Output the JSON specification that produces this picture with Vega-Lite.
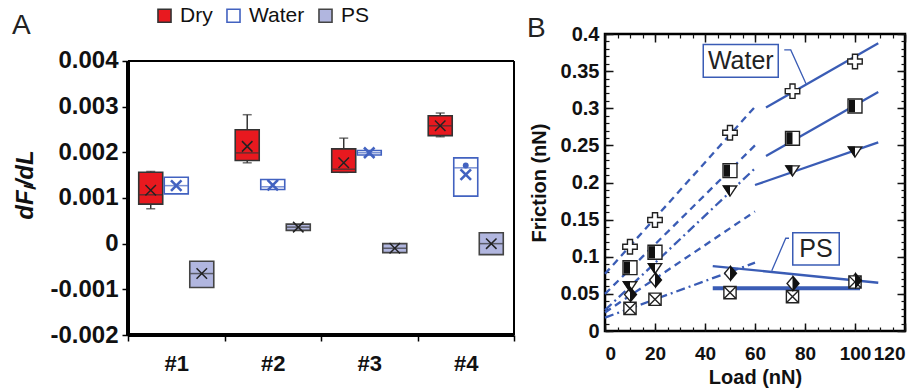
{
  "$schema": "https://vega.github.io/schema/vega-lite/v6.json",
  "background": "white",
  "padding": {"left": 12, "top": 5, "right": 0, "bottom": 0},
  "config": {
    "font": "Liberation Sans",
    "view": {"stroke": null},
    "axis": {"grid": false}
  },
  "datasets": {
    "boxes": [
      {"cat": "#1", "group": "Dry", "lo": 0.000764, "q1": 0.000865, "med": 0.00107, "q3": 0.001563, "hi": 0.00158, "mean": 0.00117},
      {"cat": "#1", "group": "Water", "q1": 0.00109, "med": 0.00127, "q3": 0.001454, "mean": 0.00127},
      {"cat": "#1", "group": "PS", "q1": -0.00096, "med": -0.000655, "q3": -0.000386, "mean": -0.000655},
      {"cat": "#2", "group": "Dry", "lo": 0.00177, "q1": 0.00182, "med": 0.001987, "q3": 0.002495, "hi": 0.002823, "mean": 0.00213},
      {"cat": "#2", "group": "Water", "q1": 0.001186, "med": 0.001245, "q3": 0.001404, "mean": 0.00128},
      {"cat": "#2", "group": "PS", "q1": 0.00029, "med": 0.000362, "q3": 0.000428, "mean": 0.000362},
      {"cat": "#3", "group": "Dry", "lo": 0.00156, "q1": 0.001563, "med": 0.00163, "q3": 0.002074, "hi": 0.00231, "mean": 0.00177},
      {"cat": "#3", "group": "Water", "q1": 0.00194, "med": 0.00199, "q3": 0.00204, "mean": 0.00199},
      {"cat": "#3", "group": "PS", "q1": -0.000197, "med": -0.0001, "q3": 0.0, "mean": -0.0001},
      {"cat": "#4", "group": "Dry", "lo": 0.00234, "q1": 0.002365, "med": 0.00258, "q3": 0.0028, "hi": 0.00286, "mean": 0.00258},
      {"cat": "#4", "group": "Water", "q1": 0.00104, "med": 0.00166, "q3": 0.001878, "mean": 0.00151, "dot": 0.00171},
      {"cat": "#4", "group": "PS", "q1": -0.00024, "med": 0.0, "q3": 0.00024, "mean": 0.0}
    ],
    "pts": [
      {"series": "cross", "load": 10, "friction": 0.1135},
      {"series": "cross", "load": 20, "friction": 0.1495},
      {"series": "cross", "load": 50, "friction": 0.267},
      {"series": "cross", "load": 75, "friction": 0.323},
      {"series": "cross", "load": 100, "friction": 0.363},
      {"series": "halfsq", "load": 10, "friction": 0.0853},
      {"series": "halfsq", "load": 20, "friction": 0.106},
      {"series": "halfsq", "load": 50, "friction": 0.216},
      {"series": "halfsq", "load": 75, "friction": 0.2595},
      {"series": "halfsq", "load": 100, "friction": 0.303},
      {"series": "tri", "load": 10, "friction": 0.06},
      {"series": "tri", "load": 20, "friction": 0.0844},
      {"series": "tri", "load": 50, "friction": 0.189},
      {"series": "tri", "load": 75, "friction": 0.216},
      {"series": "tri", "load": 100, "friction": 0.2415},
      {"series": "diam", "load": 10, "friction": 0.049},
      {"series": "diam", "load": 20, "friction": 0.0687},
      {"series": "diam", "load": 50, "friction": 0.0777},
      {"series": "diam", "load": 75, "friction": 0.064},
      {"series": "diam", "load": 100, "friction": 0.068},
      {"series": "boxx", "load": 10, "friction": 0.0305},
      {"series": "boxx", "load": 20, "friction": 0.0427},
      {"series": "boxx", "load": 50, "friction": 0.0516},
      {"series": "boxx", "load": 75, "friction": 0.0462},
      {"series": "boxx", "load": 100, "friction": 0.066}
    ],
    "fits": [
      {"series": "cross", "regime": "low", "load": 0, "friction": 0.077},
      {"series": "cross", "regime": "low", "load": 60, "friction": 0.302},
      {"series": "halfsq", "regime": "low", "load": 0, "friction": 0.05},
      {"series": "halfsq", "regime": "low", "load": 60, "friction": 0.25},
      {"series": "tri", "regime": "low", "load": 0, "friction": 0.028},
      {"series": "tri", "regime": "low", "load": 60, "friction": 0.219},
      {"series": "diam", "regime": "low", "load": 0, "friction": 0.025},
      {"series": "diam", "regime": "low", "load": 60, "friction": 0.161},
      {"series": "boxx", "regime": "low", "load": 0, "friction": 0.018},
      {"series": "boxx", "regime": "low", "load": 60, "friction": 0.092},
      {"series": "cross", "regime": "high", "load": 64.4, "friction": 0.301},
      {"series": "cross", "regime": "high", "load": 109.3, "friction": 0.3875},
      {"series": "halfsq", "regime": "high", "load": 64.4, "friction": 0.2357},
      {"series": "halfsq", "regime": "high", "load": 109.3, "friction": 0.322},
      {"series": "tri", "regime": "high", "load": 60, "friction": 0.1966},
      {"series": "tri", "regime": "high", "load": 109.3, "friction": 0.254},
      {"series": "diam", "regime": "high", "load": 43.1, "friction": 0.0875},
      {"series": "diam", "regime": "high", "load": 109.3, "friction": 0.065},
      {"series": "boxx", "regime": "high", "load": 43.1, "friction": 0.0575},
      {"series": "boxx", "regime": "high", "load": 102, "friction": 0.0575}
    ],
    "notes": [
      {"label": "Water", "x1": 39.3, "x2": 69.3, "y1": 0.3417, "y2": 0.386, "tx": 54.3, "ty": 0.3638},
      {"label": "PS", "x1": 75.1, "x2": 93.7, "y1": 0.0889, "y2": 0.1324, "tx": 84.4, "ty": 0.1106}
    ],
    "leaders": [
      {"note": "Water", "ord": 1, "load": 71.7, "friction": 0.3785},
      {"note": "Water", "ord": 2, "load": 74.3, "friction": 0.3785},
      {"note": "Water", "ord": 3, "load": 80.4, "friction": 0.333},
      {"note": "PS", "ord": 1, "load": 73.6, "friction": 0.1249},
      {"note": "PS", "ord": 2, "load": 72.3, "friction": 0.1249},
      {"note": "PS", "ord": 3, "load": 66.7, "friction": 0.081}
    ]
  },
  "bounds": "flush",
  "spacing": 91,
  "hconcat": [
    {
      "width": 386,
      "height": 301,
      "title": {"text": "A", "anchor": "start", "frame": "group", "fontSize": 28, "fontWeight": "normal", "color": "#222", "dx": -116, "dy": 6, "offset": 0},
      "data": {"name": "boxes"},
      "resolve": {"axis": {"x": "independent", "y": "independent"}},
      "layer": [
        {
          "mark": {"type": "rule", "color": "#000", "strokeWidth": 1.5},
          "encoding": {
            "y": {"datum": 0.004, "type": "quantitative", "scale": {"domain": [-0.002, 0.00459], "nice": false, "zero": false},
              "axis": {"title": "dFₗ/dL", "titleFontSize": 24, "titleFontWeight": "bold", "titleFontStyle": "italic", "titleColor": "#111", "titlePadding": 12,
                "values": [-0.002, -0.001, 0, 0.001, 0.002, 0.003, 0.004],
                "labelExpr": "datum.value == 0 ? '0' : (datum.value < 0 ? '-' : '') + format(abs(datum.value), '.3f')",
                "labelFontSize": 24, "labelFontWeight": "bold", "labelColor": "#111", "labelPadding": 4,
                "tickSize": 6, "tickWidth": 1.5, "tickColor": "#000", "domain": false}}
          }
        },
        {
          "mark": {"type": "rule", "color": "#000", "strokeWidth": 3},
          "encoding": {
            "y": {"datum": -0.002, "type": "quantitative", "scale": {"domain": [-0.002, 0.00459], "nice": false, "zero": false}, "axis": null}
          }
        },
        {
          "mark": {"type": "rule", "color": "#000", "strokeWidth": 1.5},
          "encoding": {
            "x": {"datum": "#4", "type": "nominal", "bandPosition": 1, "scale": {"domain": ["#1", "#2", "#3", "#4"], "paddingInner": 0, "paddingOuter": 0},
              "axis": {"title": null, "labelAngle": 0, "labelFontSize": 22, "labelFontWeight": "bold", "labelColor": "#111", "tickBand": "extent", "tickSize": 6, "tickWidth": 1.5, "tickColor": "#000", "domainWidth": 3, "domainColor": "#000", "labelPadding": 12}},
            "y": {"datum": 0.004, "type": "quantitative", "scale": {"domain": [-0.002, 0.00459], "nice": false, "zero": false}, "axis": null},
            "y2": {"datum": -0.002}
          }
        },
        {
          "mark": {"type": "rule", "color": "#000", "strokeWidth": 3},
          "encoding": {
            "x": {"datum": "#1", "type": "nominal", "bandPosition": 0, "scale": {"domain": ["#1", "#2", "#3", "#4"], "paddingInner": 0, "paddingOuter": 0}, "axis": null},
            "y": {"datum": 0.004, "type": "quantitative", "scale": {"domain": [-0.002, 0.00459], "nice": false, "zero": false}, "axis": null},
            "y2": {"datum": -0.002}
          }
        },
        {
          "transform": [{"filter": "isValid(datum.lo)"}],
          "mark": {"type": "rule", "color": "#333", "strokeWidth": 1.5},
          "encoding": {
            "x": {"field": "cat", "type": "nominal", "axis": null},
            "xOffset": {"field": "group", "type": "nominal", "scale": {"domain": ["Dry", "Water", "PS"], "paddingInner": 0.06, "paddingOuter": 0.42}},
            "y": {"field": "lo", "type": "quantitative", "axis": null},
            "y2": {"field": "hi"}
          }
        },
        {
          "transform": [{"filter": "isValid(datum.lo)"}],
          "mark": {"type": "tick", "orient": "horizontal", "size": 9, "thickness": 1.5, "color": "#333"},
          "encoding": {
            "x": {"field": "cat", "type": "nominal", "axis": null},
            "xOffset": {"field": "group", "type": "nominal"},
            "y": {"field": "lo", "type": "quantitative", "axis": null}
          }
        },
        {
          "transform": [{"filter": "isValid(datum.hi)"}],
          "mark": {"type": "tick", "orient": "horizontal", "size": 9, "thickness": 1.5, "color": "#333"},
          "encoding": {
            "x": {"field": "cat", "type": "nominal", "axis": null},
            "xOffset": {"field": "group", "type": "nominal"},
            "y": {"field": "hi", "type": "quantitative", "axis": null}
          }
        },
        {
          "mark": {"type": "bar", "strokeWidth": 1.6},
          "encoding": {
            "x": {"field": "cat", "type": "nominal", "axis": null},
            "xOffset": {"field": "group", "type": "nominal"},
            "y": {"field": "q1", "type": "quantitative", "axis": null},
            "y2": {"field": "q3"},
            "fill": {"field": "group", "type": "nominal", "scale": {"domain": ["Dry", "Water", "PS"], "range": ["#e8191f", "#ffffff", "#b1b6df"]},
              "legend": {"title": null, "orient": "none", "legendX": 26, "legendY": -29, "direction": "horizontal", "symbolType": "square", "symbolSize": 170, "symbolStrokeWidth": 1.6, "labelFontSize": 21, "labelColor": "#111", "labelOffset": 5, "columnPadding": 10}},
            "stroke": {"field": "group", "type": "nominal", "scale": {"domain": ["Dry", "Water", "PS"], "range": ["#333333", "#4262c0", "#444444"]},
              "legend": {"title": null, "orient": "none", "legendX": 26, "legendY": -29, "direction": "horizontal", "symbolType": "square", "symbolSize": 170, "symbolStrokeWidth": 1.6, "labelFontSize": 21, "labelColor": "#111", "labelOffset": 5, "columnPadding": 10}}
          }
        },
        {
          "mark": {"type": "tick", "orient": "horizontal", "size": 23, "thickness": 1.5},
          "encoding": {
            "x": {"field": "cat", "type": "nominal", "axis": null},
            "xOffset": {"field": "group", "type": "nominal"},
            "y": {"field": "med", "type": "quantitative", "axis": null},
            "color": {"condition": {"test": "datum.group === 'Water'", "value": "#4262c0"}, "value": "#333333"}
          }
        },
        {
          "mark": {"type": "point", "shape": "M-1,-1L1,1M1,-1L-1,1", "filled": false, "size": 110, "opacity": 1},
          "encoding": {
            "x": {"field": "cat", "type": "nominal", "axis": null},
            "xOffset": {"field": "group", "type": "nominal"},
            "y": {"field": "mean", "type": "quantitative", "axis": null},
            "color": {"condition": {"test": "datum.group === 'Water'", "value": "#4262c0"}, "value": "#222222"},
            "strokeWidth": {"condition": {"test": "datum.group === 'Water'", "value": 2.6}, "value": 1.5}
          }
        },
        {
          "transform": [{"filter": "isValid(datum.dot)"}],
          "mark": {"type": "point", "shape": "circle", "filled": true, "size": 35, "color": "#4262c0", "opacity": 1},
          "encoding": {
            "x": {"field": "cat", "type": "nominal", "axis": null},
            "xOffset": {"field": "group", "type": "nominal"},
            "y": {"field": "dot", "type": "quantitative", "axis": null}
          }
        }
      ]
    },
    {
      "width": 300,
      "height": 297,
      "title": {"text": "B", "anchor": "start", "frame": "group", "fontSize": 28, "fontWeight": "normal", "color": "#222", "dx": -78, "dy": 19, "offset": 0},
      "view": {"stroke": "#000", "strokeWidth": 2.5},
      "resolve": {"axis": {"x": "independent", "y": "independent"}, "scale": {"shape": "independent", "size": "independent"}},
      "layer": [
        {
          "data": {"name": "fits"},
          "transform": [{"filter": "datum.regime === 'low' && (datum.series === 'cross' || datum.series === 'halfsq' || datum.series === 'diam')"}],
          "mark": {"type": "line", "color": "#3a5cb5", "strokeWidth": 2.3, "strokeDash": [7, 5]},
          "encoding": {
            "x": {"field": "load", "type": "quantitative", "scale": {"domain": [0, 120], "nice": false},
              "axis": {"orient": "bottom", "values": [0, 20, 40, 60, 80, 100, 120], "title": "Load (nN)", "titleFontSize": 20, "titleFontWeight": "bold", "titleColor": "#111", "labelFontSize": 19, "labelFontWeight": "bold", "labelColor": "#111", "tickSize": -8, "tickWidth": 1.5, "tickColor": "#111", "domain": false, "labelPadding": 21, "titlePadding": 4}},
            "y": {"field": "friction", "type": "quantitative", "scale": {"domain": [0, 0.4], "nice": false},
              "axis": {"orient": "left", "values": [0, 0.05, 0.1, 0.15, 0.2, 0.25, 0.3, 0.35, 0.4], "format": "~g", "title": "Friction (nN)", "titleFontSize": 20, "titleFontWeight": "bold", "titleColor": "#111", "labelFontSize": 20, "labelFontWeight": "bold", "labelColor": "#111", "tickSize": -8, "tickWidth": 1.5, "tickColor": "#111", "domain": false, "labelPadding": 14, "titlePadding": 11}},
            "detail": {"field": "series"}
          }
        },
        {
          "data": {"name": "fits"},
          "transform": [{"filter": "datum.regime === 'low' && (datum.series === 'tri' || datum.series === 'boxx')"}],
          "mark": {"type": "line", "color": "#3a5cb5", "strokeWidth": 2.3, "strokeDash": [9, 4, 2, 4]},
          "encoding": {
            "x": {"field": "load", "type": "quantitative", "scale": {"domain": [0, 120], "nice": false},
              "axis": {"orient": "bottom", "values": [0, 5, 10, 15, 20, 25, 30, 35, 40, 45, 50, 55, 60, 65, 70, 75, 80, 85, 90, 95, 100, 105, 110, 115, 120], "labels": false, "title": null, "tickSize": -4, "tickWidth": 1.2, "tickColor": "#111", "domain": false}},
            "y": {"field": "friction", "type": "quantitative", "scale": {"domain": [0, 0.4], "nice": false},
              "axis": {"orient": "left", "values": [0, 0.01, 0.02, 0.03, 0.04, 0.05, 0.06, 0.07, 0.08, 0.09, 0.1, 0.11, 0.12, 0.13, 0.14, 0.15, 0.16, 0.17, 0.18, 0.19, 0.2, 0.21, 0.22, 0.23, 0.24, 0.25, 0.26, 0.27, 0.28, 0.29, 0.3, 0.31, 0.32, 0.33, 0.34, 0.35, 0.36, 0.37, 0.38, 0.39, 0.4], "labels": false, "title": null, "tickSize": -4, "tickWidth": 1.2, "tickColor": "#111", "domain": false}},
            "detail": {"field": "series"}
          }
        },
        {
          "data": {"name": "fits"},
          "transform": [{"filter": "datum.regime === 'high' && datum.series !== 'boxx'"}],
          "mark": {"type": "line", "color": "#3a5cb5", "strokeWidth": 2.3},
          "encoding": {
            "x": {"field": "load", "type": "quantitative", "scale": {"domain": [0, 120], "nice": false},
              "axis": {"orient": "top", "values": [0, 20, 40, 60, 80, 100, 120], "labels": false, "title": null, "tickSize": -8, "tickWidth": 1.5, "tickColor": "#111", "domain": false}},
            "y": {"field": "friction", "type": "quantitative", "scale": {"domain": [0, 0.4], "nice": false},
              "axis": {"orient": "right", "values": [0, 0.05, 0.1, 0.15, 0.2, 0.25, 0.3, 0.35, 0.4], "labels": false, "title": null, "tickSize": -8, "tickWidth": 1.5, "tickColor": "#111", "domain": false}},
            "detail": {"field": "series"}
          }
        },
        {
          "data": {"name": "fits"},
          "transform": [{"filter": "datum.regime === 'high' && datum.series === 'boxx'"}],
          "mark": {"type": "line", "color": "#3a5cb5", "strokeWidth": 4},
          "encoding": {
            "x": {"field": "load", "type": "quantitative", "scale": {"domain": [0, 120], "nice": false},
              "axis": {"orient": "top", "values": [0, 5, 10, 15, 20, 25, 30, 35, 40, 45, 50, 55, 60, 65, 70, 75, 80, 85, 90, 95, 100, 105, 110, 115, 120], "labels": false, "title": null, "tickSize": -4, "tickWidth": 1.2, "tickColor": "#111", "domain": false}},
            "y": {"field": "friction", "type": "quantitative", "scale": {"domain": [0, 0.4], "nice": false},
              "axis": {"orient": "right", "values": [0, 0.01, 0.02, 0.03, 0.04, 0.05, 0.06, 0.07, 0.08, 0.09, 0.1, 0.11, 0.12, 0.13, 0.14, 0.15, 0.16, 0.17, 0.18, 0.19, 0.2, 0.21, 0.22, 0.23, 0.24, 0.25, 0.26, 0.27, 0.28, 0.29, 0.3, 0.31, 0.32, 0.33, 0.34, 0.35, 0.36, 0.37, 0.38, 0.39, 0.4], "labels": false, "title": null, "tickSize": -4, "tickWidth": 1.2, "tickColor": "#111", "domain": false}}
          }
        },
        {
          "data": {"name": "notes"},
          "mark": {"type": "rect", "fill": "white", "stroke": "#3a5cb5", "strokeWidth": 1.5},
          "encoding": {
            "x": {"field": "x1", "type": "quantitative", "scale": {"domain": [0, 120], "nice": false}, "axis": null},
            "x2": {"field": "x2"},
            "y": {"field": "y1", "type": "quantitative", "scale": {"domain": [0, 0.4], "nice": false}, "axis": null},
            "y2": {"field": "y2"}
          }
        },
        {
          "data": {"name": "notes"},
          "mark": {"type": "text", "fontSize": 25, "color": "#222", "align": "center", "baseline": "middle"},
          "encoding": {
            "x": {"field": "tx", "type": "quantitative", "scale": {"domain": [0, 120], "nice": false}, "axis": null},
            "y": {"field": "ty", "type": "quantitative", "scale": {"domain": [0, 0.4], "nice": false}, "axis": null},
            "text": {"field": "label"}
          }
        },
        {
          "data": {"name": "leaders"},
          "mark": {"type": "line", "color": "#3a5cb5", "strokeWidth": 1.3},
          "encoding": {
            "x": {"field": "load", "type": "quantitative", "scale": {"domain": [0, 120], "nice": false}, "axis": null},
            "y": {"field": "friction", "type": "quantitative", "scale": {"domain": [0, 0.4], "nice": false}, "axis": null},
            "detail": {"field": "note"},
            "order": {"field": "ord"}
          }
        },
        {
          "data": {"name": "pts"},
          "mark": {"type": "point", "filled": true, "fill": "white", "stroke": "#222", "strokeWidth": 1.4, "opacity": 1},
          "encoding": {
            "x": {"field": "load", "type": "quantitative", "scale": {"domain": [0, 120], "nice": false}, "axis": null},
            "y": {"field": "friction", "type": "quantitative", "scale": {"domain": [0, 0.4], "nice": false}, "axis": null},
            "shape": {"field": "series", "type": "nominal", "legend": null, "scale": {"domain": ["cross", "halfsq", "tri", "diam", "boxx"], "range": ["M-0.35,-1H0.35V-0.35H1V0.35H0.35V1H-0.35V0.35H-1V-0.35H-0.35Z", "M-1,-1H1V1H-1Z", "M-1,-0.7H1L0,0.8Z", "M0,-1L0.85,0L0,1L-0.85,0Z", "M-1,-1H1V1H-1ZM-1,-1L1,1M1,-1L-1,1"]}},
            "size": {"field": "series", "type": "nominal", "legend": null, "scale": {"domain": ["cross", "halfsq", "tri", "diam", "boxx"], "range": [210, 150, 300, 200, 160]}}
          }
        },
        {
          "data": {"name": "pts"},
          "transform": [{"filter": "datum.series === 'halfsq' || datum.series === 'tri' || datum.series === 'diam'"}],
          "mark": {"type": "point", "filled": true, "fill": "#111", "strokeWidth": 0, "opacity": 1},
          "encoding": {
            "x": {"field": "load", "type": "quantitative", "scale": {"domain": [0, 120], "nice": false}, "axis": null},
            "y": {"field": "friction", "type": "quantitative", "scale": {"domain": [0, 0.4], "nice": false}, "axis": null},
            "shape": {"field": "series", "type": "nominal", "legend": null, "scale": {"domain": ["halfsq", "tri", "diam"], "range": ["M-1,-1H0V1H-1Z", "M-1,-0.7H0V0.8Z", "M0,-1L0.85,0L0,1Z"]}},
            "size": {"field": "series", "type": "nominal", "legend": null, "scale": {"domain": ["halfsq", "tri", "diam"], "range": [150, 300, 200]}}
          }
        }
      ]
    }
  ]
}
